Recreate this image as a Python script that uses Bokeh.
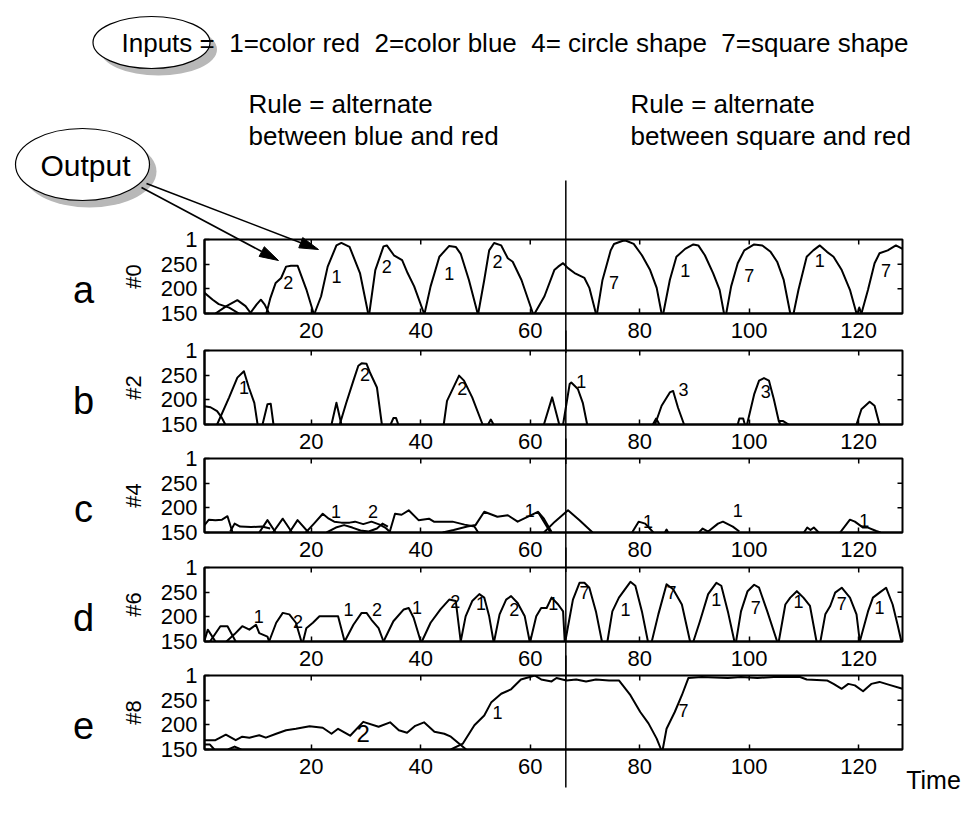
import math
from bokeh.plotting import figure
from bokeh.layouts import column
from bokeh.models import LinearAxis, FixedTicker, Range1d
from bokeh.core.properties import value
from bokeh.embed import file_html
from bokeh.resources import INLINE

# ---------------- data ----------------
TIME_TICKS = [20, 40, 60, 80, 100, 120]
VALUE_TICKS = [150, 200, 250, 300]
VALUE_TICK_LABELS = {300: "1"}
PANEL_LETTERS = ["a", "b", "c", "d", "e"]
UNIT_NAMES = ["#0", "#2", "#4", "#6", "#8"]
SWITCH_TIME = 66.5

a_xs = [
    [0.5, 2.0, 3.1, 5.0, 6.8],
    [2.5, 4.5, 6.5, 8.0, 9.0],
    [8.8, 10.0, 10.8, 11.5, 12.3],
    [11.8, 12.5, 13.5, 14.5, 15.4, 16.3, 17.5, 19.1, 20.3, 20.4],
    [20.6, 21.8, 23.0, 24.6, 25.5, 27.0, 28.9, 30.4],
    [30.6, 31.7, 33.2, 33.8, 35.1, 36.6, 37.6, 38.8, 40.6],
    [40.7, 41.8, 43.4, 45.2, 46.4, 47.3, 48.8, 50.4],
    [50.5, 51.6, 52.5, 53.4, 54.7, 55.9, 56.8, 58.4, 60.5],
    [60.8, 62.6, 64.4, 65.1, 66.0, 66.9, 68.1, 69.9, 70.8, 72.0],
    [72.2, 73.2, 74.7, 75.3, 76.8, 77.4, 78.9, 80.4, 81.9, 83.1, 84.0],
    [84.3, 85.5, 86.7, 88.3, 89.8, 90.7, 91.9, 93.4, 94.6, 95.4],
    [95.8, 96.7, 97.9, 99.1, 100.9, 102.4, 103.9, 105.1, 106.3, 107.5],
    [108.1, 109.0, 110.5, 111.7, 112.9, 114.2, 115.4, 116.9, 118.4, 119.6],
    [119.8, 120.1, 120.5],
    [120.5, 121.7, 122.9, 123.8, 125.3, 126.8, 128.0],
]
a_ys = [
    [192, 178, 169, 162, 150],
    [150, 165, 177, 165, 150],
    [150, 168, 178, 168, 150],
    [150, 180, 212, 222, 245, 247, 247, 199, 155, 150],
    [150, 185, 245, 288, 293, 285, 232, 150],
    [150, 238, 286, 288, 268, 258, 232, 205, 150],
    [150, 205, 265, 287, 285, 271, 218, 150],
    [150, 218, 278, 293, 288, 262, 255, 218, 150],
    [150, 185, 238, 245, 252, 242, 232, 222, 202, 150],
    [150, 218, 278, 291, 297, 298, 291, 268, 238, 202, 150],
    [150, 218, 265, 281, 290, 288, 268, 232, 198, 150],
    [150, 205, 252, 278, 290, 288, 275, 255, 218, 150],
    [150, 198, 265, 278, 288, 275, 265, 238, 198, 150],
    [150, 162, 150],
    [150, 198, 252, 272, 278, 288, 281],
]
a_lx = [15.8, 24.6, 33.8, 45.2, 54.0, 75.3, 88.3, 100.0, 112.9, 125.0]
a_ly = [212, 225, 245, 232, 255, 212, 238, 228, 258, 238]
a_lt = ["2", "1", "2", "1", "2", "7", "1", "7", "1", "7"]

b_xs = [
    [0.5, 1.6, 2.8, 3.6, 4.3],
    [2.8, 5.0, 6.5, 7.7, 8.6, 9.6, 10.2],
    [11.1, 12.0, 12.6, 13.1],
    [23.7, 24.6, 25.5],
    [25.2, 26.4, 27.7, 28.6, 29.2, 30.1, 30.7, 32.0, 32.9],
    [34.5, 35.0, 35.5, 35.9],
    [44.2, 44.8, 47.0, 47.9, 49.4, 51.3],
    [52.3, 52.8, 53.3],
    [62.5, 64.0, 65.3],
    [66.0, 67.2, 67.5, 68.7, 69.6, 70.4],
    [82.4, 83.0, 83.6],
    [82.8, 84.0, 85.5, 86.1, 87.0, 88.1],
    [97.9, 98.2, 98.9, 99.2],
    [99.6, 100.9, 101.8, 102.7, 103.6, 104.5, 105.4, 105.7],
    [105.4, 106.2, 107.2],
    [119.6, 120.5, 122.0, 122.9, 123.8],
]
b_ys = [
    [187, 185, 177, 165, 150],
    [150, 205, 245, 258, 225, 194, 150],
    [150, 191, 192, 150],
    [150, 194, 150],
    [150, 194, 239, 269, 274, 273, 256, 225, 150],
    [150, 163, 163, 150],
    [150, 198, 249, 239, 205, 150],
    [150, 160, 150],
    [150, 205, 150],
    [150, 232, 235, 222, 194, 150],
    [150, 162, 150],
    [150, 188, 215, 218, 184, 150],
    [150, 162, 162, 150],
    [150, 211, 239, 244, 239, 201, 157, 150],
    [157, 157, 150],
    [150, 181, 196, 188, 150],
]
b_lx = [7.7, 29.8, 47.6, 69.3, 88.0, 103.0]
b_ly = [225, 252, 222, 237, 220, 217]
b_lt = ["1", "2", "2", "1", "3", "3"]

c_xs = [
    [0.5, 1.3, 2.5, 3.7, 4.7, 5.6],
    [5.2, 6.0, 7.0, 9.0, 11.0, 12.5],
    [10.5, 12.0, 13.5],
    [13.0, 14.8, 16.5],
    [16.0, 17.5, 19.5],
    [19.0, 20.5, 22.1, 23.2, 24.2, 25.5, 27.0, 28.0, 29.5, 31.0, 32.5, 33.5, 34.5],
    [22.8, 24.5, 26.0, 27.5, 29.0, 30.5, 32.0, 33.0, 34.0],
    [34.3, 35.3, 36.5, 37.8, 39.6, 41.5, 42.4, 45.8, 48.0, 49.8, 50.5],
    [44.0, 46.0, 48.5, 50.0, 51.6, 54.0, 55.9, 57.7, 59.6, 61.4, 62.5, 63.9],
    [62.5, 64.5, 66.9, 69.0, 71.4],
    [61.5, 62.5, 63.7],
    [78.6, 79.8, 81.0, 82.5],
    [84.6, 84.9, 85.2],
    [90.8, 91.5, 92.5, 94.3, 95.2, 97.0, 98.2],
    [110.0, 110.6, 111.2, 111.8, 112.7],
    [116.6, 118.4, 119.3, 120.8, 121.7, 123.2, 124.0],
]
c_ys = [
    [165, 176, 175, 176, 183, 151],
    [152, 168, 162, 161, 162, 158],
    [150, 175, 150],
    [150, 178, 150],
    [150, 175, 150],
    [150, 168, 188, 178, 172, 170, 170, 172, 167, 172, 166, 160, 150],
    [150, 160, 165, 160, 154, 152, 158, 168, 162],
    [150, 188, 186, 195, 175, 178, 172, 172, 166, 162, 150],
    [150, 155, 162, 165, 192, 182, 185, 172, 182, 192, 178, 151],
    [150, 172, 195, 175, 150],
    [190, 172, 150],
    [150, 172, 168, 150],
    [150, 156, 150],
    [150, 158, 152, 168, 172, 162, 152],
    [150, 160, 155, 160, 150],
    [150, 176, 172, 160, 160, 153, 150],
]
c_lx = [24.5, 31.3, 59.9, 81.5, 97.9, 121.0]
c_ly = [192, 192, 195, 172, 195, 175]
c_lt = ["1", "2", "1", "1", "1", "1"]

d_xs = [
    [0.5, 1.1, 2.5],
    [1.5, 3.4, 4.7, 6.2],
    [4.5, 6.0, 7.4, 8.7, 9.9, 10.5, 12.0, 12.3],
    [12.3, 13.6, 14.8, 16.0, 17.2, 18.2],
    [18.5, 19.1, 20.3, 21.5, 22.8, 24.9, 26.1],
    [26.1, 27.7, 29.2, 30.1, 31.0, 32.3, 33.2],
    [33.2, 35.0, 36.9, 37.8, 38.7, 40.0],
    [40.2, 41.8, 43.6, 45.2, 46.4, 47.3],
    [47.3, 48.2, 49.4, 50.7, 51.6, 52.5, 53.3],
    [53.4, 54.4, 55.6, 56.5, 57.7, 59.0, 59.9],
    [60.0, 61.1, 62.0, 63.0, 63.9, 65.1, 66.0, 66.3],
    [66.4, 67.8, 69.0, 69.9, 70.8, 72.0, 73.1],
    [74.1, 75.0, 76.2, 78.3, 79.2, 80.4, 81.5],
    [82.2, 83.4, 84.9, 86.1, 87.7, 89.2],
    [89.8, 91.0, 92.5, 94.0, 94.9, 96.1, 97.3],
    [97.6, 98.5, 99.7, 100.9, 101.8, 103.3, 105.1],
    [105.4, 106.6, 107.5, 108.7, 109.9, 111.1, 112.3],
    [113.0, 113.9, 114.8, 115.7, 116.9, 118.4, 119.6, 120.2],
    [120.2, 121.7, 122.6, 123.8, 125.0, 126.2, 127.1, 127.8],
]
d_ys = [
    [152, 174, 150],
    [150, 181, 181, 150],
    [150, 165, 181, 174, 184, 167, 160, 150],
    [150, 188, 208, 205, 188, 150],
    [150, 177, 188, 201, 201, 201, 150],
    [150, 184, 208, 208, 194, 177, 150],
    [150, 191, 215, 218, 198, 150],
    [150, 188, 215, 235, 232, 150],
    [150, 201, 232, 246, 239, 201, 150],
    [150, 205, 235, 242, 228, 201, 150],
    [150, 201, 218, 218, 239, 225, 211, 150],
    [150, 235, 269, 269, 259, 211, 150],
    [150, 211, 239, 271, 263, 211, 150],
    [150, 205, 266, 256, 225, 150],
    [150, 191, 246, 269, 263, 211, 150],
    [150, 211, 252, 265, 259, 211, 150],
    [150, 225, 239, 252, 239, 222, 150],
    [150, 205, 222, 249, 259, 239, 205, 150],
    [150, 211, 239, 249, 259, 225, 184, 150],
]
d_lx = [10.4, 17.6, 26.8, 32.0, 39.3, 46.3, 51.0, 57.1, 64.2,
        69.9, 77.4, 85.8, 94.0, 101.2, 109.0, 116.9, 123.8]
d_ly = [201, 191, 215, 215, 218, 232, 228, 215, 228,
        249, 215, 249, 235, 218, 232, 228, 218]
d_lt = ["1", "2", "1", "2", "1", "2", "1", "2", "1",
        "7", "1", "7", "1", "7", "1", "7", "1"]

e_xs = [
    [0.5, 2.5, 4.4, 6.2, 7.4, 8.7, 10.5, 11.7, 13.6, 15.4, 17.2, 19.7, 22.1, 23.7,
     24.9, 27.1, 29.5, 32.3, 34.4, 36.0, 37.5, 39.0, 40.6, 42.5, 44.3, 45.5, 48.3],
    [45.5, 47.7, 49.8, 51.6, 52.9, 54.7, 56.5, 58.3, 59.9, 60.8, 62.0, 63.9, 64.8,
     66.6, 68.4, 70.2, 72.0, 74.4, 76.2, 78.3, 80.1, 81.6, 83.1, 83.9],
    [84.2, 84.9, 86.4, 87.7, 88.9, 91.3, 96.1, 98.5, 101.5, 104.5, 109.3, 110.5,
     114.2, 115.4, 116.9, 118.1, 119.3, 120.8, 122.3, 123.8, 125.6, 128.0],
    [0.5, 1.5, 2.3],
    [4.8, 6.0, 7.2],
]
e_ys = [
    [169, 169, 180, 169, 176, 174, 179, 174, 182, 189, 192, 197, 194, 182,
     192, 178, 206, 196, 205, 189, 184, 198, 205, 186, 182, 176, 150],
    [150, 162, 199, 219, 246, 263, 272, 292, 297, 300, 292, 288, 295,
     290, 292, 288, 292, 290, 290, 260, 226, 203, 172, 150],
    [150, 192, 226, 260, 295, 297, 295, 297, 295, 297, 297, 292,
     290, 283, 273, 283, 280, 268, 283, 287, 281, 273],
    [160, 160, 150],
    [150, 156, 150],
]
e_lx = [29.5, 54.0, 88.0]
e_ly = [182, 226, 229]
e_lt = ["2", "1", "7"]
e_lsize = ["24px", "18px", "18px"]

HEADER_INPUTS = "Inputs =\u00a0 1=color red\u00a0 2=color blue\u00a0 4= circle shape\u00a0 7=square shape"
RULE_LEFT = ["Rule = alternate", "between blue and red"]
RULE_RIGHT = ["Rule = alternate", "between square and red"]
OUTPUT_TEXT = "Output"
TIME_TEXT = "Time"

LABEL_SIZE = "18px"
PANELS = [
    (a_xs, a_ys, a_lx, a_ly, a_lt, [LABEL_SIZE] * len(a_lt)),
    (b_xs, b_ys, b_lx, b_ly, b_lt, [LABEL_SIZE] * len(b_lt)),
    (c_xs, c_ys, c_lx, c_ly, c_lt, [LABEL_SIZE] * len(c_lt)),
    (d_xs, d_ys, d_lx, d_ly, d_lt, [LABEL_SIZE] * len(d_lt)),
    (e_xs, e_ys, e_lx, e_ly, e_lt, e_lsize),
]

# ---------------- layout (page pixels) ----------------
W = 966
PAGE_H = 813
FRAME_LEFT, FRAME_RIGHT = 204, 902
FRAME_H = 74
FRAME_TOPS = [239, 350, 458, 567, 675]
PAD_TOP = 20
PAD_BOTTOM = 40
X_START, X_END = 0.5, 128.0
Y_START, Y_END = 150, 300
FONT = "Liberation Sans"


def px_to_x(px):
    return X_START + (px - FRAME_LEFT) * (X_END - X_START) / (FRAME_RIGHT - FRAME_LEFT)


def py_to_y(py, k):
    return Y_END - (py - FRAME_TOPS[k]) * (Y_END - Y_START) / FRAME_H


def fig_box(k):
    top = 0 if k == 0 else FRAME_TOPS[k] - PAD_TOP
    bottom = PAGE_H if k == 4 else FRAME_TOPS[k] + FRAME_H + PAD_BOTTOM
    return top, bottom


def make_panel(k):
    xs, ys, lx, ly, lt, lsize = PANELS[k]
    top, bottom = fig_box(k)
    b_top = FRAME_TOPS[k] - top
    b_bot = bottom - (FRAME_TOPS[k] + FRAME_H)
    p = figure(width=W, height=bottom - top, x_range=Range1d(X_START, X_END),
               y_range=Range1d(Y_START, Y_END),
               x_axis_location=None, y_axis_location=None, output_backend="svg",
               toolbar_location=None, min_border_left=FRAME_LEFT, min_border_right=W - FRAME_RIGHT,
               min_border_top=b_top, min_border_bottom=b_bot,
               background_fill_color=None, border_fill_color=None)
    if k > 0:
        prev_bottom = fig_box(k - 1)[1]
        p.margin = (top - prev_bottom, 0, 0, 0)
    p.xgrid.visible = False
    p.ygrid.visible = False
    p.outline_line_color = "black"
    p.outline_line_width = 2
    p.outline_line_alpha = 1

    xa = LinearAxis(ticker=FixedTicker(ticks=TIME_TICKS, minor_ticks=[]),
                    major_tick_in=5, major_tick_out=0, minor_tick_line_color=None,
                    major_label_standoff=9, major_label_text_font=FONT,
                    major_label_text_font_size="22px", major_label_text_color="black",
                    axis_line_color="black", axis_line_width=2, major_tick_line_width=1.5)
    p.add_layout(xa, "below")
    ya = LinearAxis(ticker=FixedTicker(ticks=VALUE_TICKS, minor_ticks=[]),
                    major_label_overrides=VALUE_TICK_LABELS,
                    major_tick_in=5, major_tick_out=0, minor_tick_line_color=None,
                    major_label_standoff=7, major_label_text_font=FONT,
                    major_label_text_font_size="22px", major_label_text_color="black",
                    axis_label=UNIT_NAMES[k], axis_label_text_font=FONT,
                    axis_label_text_font_size="22px", axis_label_text_font_style="normal",
                    axis_label_standoff=12, axis_label_text_color="black",
                    axis_line_color="black", axis_line_width=2, major_tick_line_width=1.5)
    p.add_layout(ya, "left")

    # inside ticks on top and right edges
    p.ray(x=TIME_TICKS, y=[Y_END] * len(TIME_TICKS), length=5, length_units="screen",
          angle=-math.pi / 2, line_color="black", line_width=1.5)
    p.ray(x=[X_END] * 2, y=VALUE_TICKS[1:3], length=5, length_units="screen",
          angle=math.pi, line_color="black", line_width=1.5)

    p.multi_line(xs=xs, ys=ys, line_color="black", line_width=2, line_join="round")
    p.text(x=lx, y=ly, text=lt, text_font=value(FONT), text_font_size=lsize,
           text_align="center", text_baseline="middle", text_color="black")

    # panel letter
    p.text(x=[px_to_x(83)], y=[py_to_y(FRAME_TOPS[k] + 50, k)], text=[PANEL_LETTERS[k]],
           text_font=value(FONT), text_font_size="38px", text_align="center",
           text_baseline="alphabetic", text_color="black", level="overlay")

    # vertical switch line
    y_top = py_to_y(180 if k == 0 else top, k)
    y_bot = py_to_y(787 if k == 4 else bottom, k)
    p.segment(x0=[SWITCH_TIME], y0=[y_top], x1=[SWITCH_TIME], y1=[y_bot],
              line_color="black", line_width=1.5, level="overlay")
    return p


panels = [make_panel(k) for k in range(5)]
pa = panels[0]

# header: ellipses with shadows (page pixel centre, width, height)
ELLIPSES = [(151, 42, 117, 52), (82, 164, 134, 72)]
for (cx, cy, w, h) in ELLIPSES:
    pa.ellipse(x=[px_to_x(cx + 7)], y=[py_to_y(cy + 7, 0)], width=w, height=h,
               width_units="screen", height_units="screen", fill_color="#b8b8b8",
               line_color=None, level="overlay")
    pa.ellipse(x=[px_to_x(cx)], y=[py_to_y(cy, 0)], width=w, height=h,
               width_units="screen", height_units="screen", fill_color="white",
               line_color="black", line_width=1.2, level="overlay")

pa.text(x=[px_to_x(121)], y=[py_to_y(42, 0)], text=[HEADER_INPUTS], text_font=value(FONT),
        text_font_size="26px", text_align="left", text_baseline="middle", text_color="black",
        level="overlay")
pa.text(x=[px_to_x(85)], y=[py_to_y(165, 0)], text=[OUTPUT_TEXT], text_font=value(FONT),
        text_font_size="30px", text_align="center", text_baseline="middle", text_color="black",
        level="overlay")
for lines, px in [(RULE_LEFT, 248), (RULE_RIGHT, 630)]:
    pa.text(x=[px_to_x(px)] * 2, y=[py_to_y(103, 0), py_to_y(135, 0)], text=lines,
            text_font=value(FONT), text_font_size="26px", text_align="left",
            text_baseline="middle", text_color="black", level="overlay")

# arrows from the Output ellipse (page pixels: start, tip)
ARROWS = [(141, 187, 278, 260), (146, 183, 318, 249)]
HEAD_LEN, HEAD_HALF = 19, 5.5
for (x0, y0, x1, y1) in ARROWS:
    dx, dy = x1 - x0, y1 - y0
    n = math.hypot(dx, dy)
    ux, uy = dx / n, dy / n
    bx, by = x1 - ux * HEAD_LEN, y1 - uy * HEAD_LEN
    pa.segment(x0=[px_to_x(x0)], y0=[py_to_y(y0, 0)], x1=[px_to_x(bx)], y1=[py_to_y(by, 0)],
               line_color="black", line_width=1.6, level="overlay")
    hx = [x1, bx - uy * HEAD_HALF, bx + uy * HEAD_HALF]
    hy = [y1, by + ux * HEAD_HALF, by - ux * HEAD_HALF]
    pa.patch(x=[px_to_x(v) for v in hx], y=[py_to_y(v, 0) for v in hy],
             fill_color="black", line_color="black", line_width=1, level="overlay")

pe = panels[4]
pe.text(x=[px_to_x(933)], y=[py_to_y(779, 4)], text=[TIME_TEXT], text_font=value(FONT),
        text_font_size="25px", text_align="center", text_baseline="middle", text_color="black",
        level="overlay")

layout = column(*panels, spacing=0)
open("out.html", "w").write(file_html(layout, INLINE))
